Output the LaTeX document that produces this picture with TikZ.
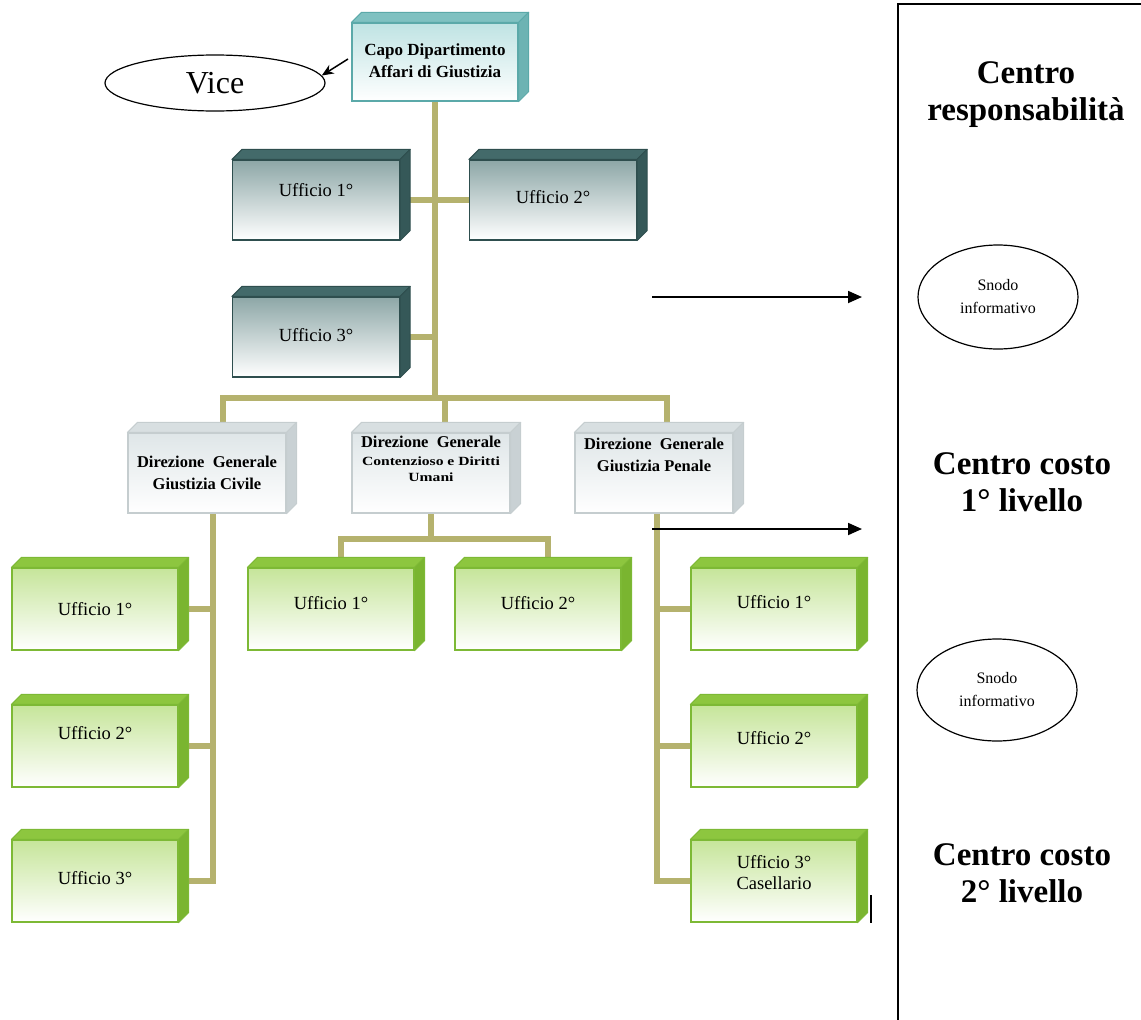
\documentclass[tikz,border=0pt]{standalone}
\usepackage{fontspec}
\setmainfont{Liberation Serif}
\usetikzlibrary{shapes.geometric,arrows.meta,backgrounds}
\definecolor{olivec}{HTML}{B5B26E}
\definecolor{tealb}{HTML}{5BA9A9}
\definecolor{tealtop}{HTML}{7FC1C1}
\definecolor{tealside}{HTML}{6DB3B3}
\definecolor{tealfront}{HTML}{BFE3E3}
\definecolor{darkb}{HTML}{2E4E4E}
\definecolor{darktop}{HTML}{436A6A}
\definecolor{darkside}{HTML}{355858}
\definecolor{darkfront}{HTML}{8DA7A7}
\definecolor{grnb}{HTML}{7DB935}
\definecolor{grntop}{HTML}{8DC63F}
\definecolor{grnside}{HTML}{7AB530}
\definecolor{grnfront}{HTML}{C6E59A}
\definecolor{grayb}{HTML}{C5CDCF}
\definecolor{graytop}{HTML}{D8DFE1}
\definecolor{grayside}{HTML}{C9D1D4}
\definecolor{grayfront}{HTML}{DFE6E8}
\tikzset{
 conn/.style={line width=6pt, draw=olivec},
 arr/.style={line width=1.8pt, -{Triangle[length=14pt,width=12pt]}},
 front/.style={rectangle, line width=1.2pt, inner sep=0pt},
 capof/.style={front, draw=tealb, top color=tealfront, bottom color=white, minimum width=166pt, minimum height=78pt},
 darkf/.style={front, draw=darkb, top color=darkfront, bottom color=white, minimum width=167pt, minimum height=80pt},
 dgf/.style={front, draw=grayb, top color=grayfront, bottom color=white, minimum width=158pt, minimum height=80pt},
 grnf/.style={front, draw=grnb, top color=grnfront, bottom color=white, minimum width=166pt, minimum height=82pt},
 btext/.style={font=\fontsize{18.5}{21}\selectfont, align=center, inner sep=0pt},
 bbold/.style={font=\bfseries\fontsize{17}{22}\selectfont, align=center, inner sep=0pt},
 dbold/.style={font=\bfseries\fontsize{16.5}{22}\selectfont, align=center, inner sep=0pt},
 oval/.style={ellipse, draw, line width=1.2pt, inner sep=0pt},
 otext/.style={font=\fontsize{16}{23}\selectfont, align=center, inner sep=0pt},
 rtext/.style={font=\bfseries\fontsize{33}{37}\selectfont, align=center, inner sep=0pt},
}
\newcommand{\cube}[9]{%
 \node[#2] (#1) at (#6,#7) {};
 \filldraw[fill=#3, draw=#5, line width=1pt, line join=round] (#1.north west) -- ++(10,-10) -- ([shift={(10,-10)}]#1.north east) -- (#1.north east) -- cycle;
 \filldraw[fill=#4, draw=#5, line width=1pt, line join=round] (#1.north east) -- ++(10,-10) -- ([shift={(10,-10)}]#1.south east) -- (#1.south east) -- cycle;
 \node[#8] (#1t) at (#1.center) {#9};
}
\newcommand{\smallb}[1]{\scalebox{1.25}[1]{\fontsize{12.5}{14}\selectfont #1}}
\begin{document}
\begin{tikzpicture}[x=1pt,y=-1pt]
\useasboundingbox (0,0) rectangle (1141,1020);

% top
\cube{capo}{capof}{tealtop}{tealside}{tealb}{435}{62}{bbold,yshift=1pt}{Capo Dipartimento\\Affari di Giustizia}
\node[oval, minimum width=220pt, minimum height=56pt, font=\fontsize{32}{34}\selectfont] (vice) at (215,83) {Vice};

% dark offices
\cube{d1}{darkf}{darktop}{darkside}{darkb}{316}{200}{btext,yshift=10pt}{Ufficio 1°}
\cube{d2}{darkf}{darktop}{darkside}{darkb}{553}{200}{btext,yshift=3pt}{Ufficio 2°}
\cube{d3}{darkf}{darktop}{darkside}{darkb}{316}{337}{btext,yshift=2pt}{Ufficio 3°}

% direzioni
\cube{dgc}{dgf}{graytop}{grayside}{grayb}{207}{473}{dbold}{Direzione~ Generale\\Giustizia Civile}
\cube{dgm}{dgf}{graytop}{grayside}{grayb}{431}{473}{dbold,yshift=14pt}{Direzione~ Generale\\[-4pt]\smallb{Contenzioso e Diritti}\\[-6pt]\smallb{Umani}}
\cube{dgp}{dgf}{graytop}{grayside}{grayb}{654}{473}{dbold,yshift=18pt}{Direzione~ Generale\\Giustizia Penale}

% green offices
\cube{l1}{grnf}{grntop}{grnside}{grnb}{95}{609}{btext}{Ufficio 1°}
\cube{l2}{grnf}{grntop}{grnside}{grnb}{95}{746}{btext,yshift=13pt}{Ufficio 2°}
\cube{l3}{grnf}{grntop}{grnside}{grnb}{95}{881}{btext,yshift=3pt}{Ufficio 3°}
\cube{m1}{grnf}{grntop}{grnside}{grnb}{331}{609}{btext,yshift=6pt}{Ufficio 1°}
\cube{m2}{grnf}{grntop}{grnside}{grnb}{538}{609}{btext,yshift=6pt}{Ufficio 2°}
\cube{r1}{grnf}{grntop}{grnside}{grnb}{774}{609}{btext,yshift=7pt}{Ufficio 1°}
\cube{r2}{grnf}{grntop}{grnside}{grnb}{774}{746}{btext,yshift=8pt}{Ufficio 2°}
\cube{r3}{grnf}{grntop}{grnside}{grnb}{774}{881}{btext,yshift=8pt}{Ufficio 3°\\Casellario}

% right panel
\draw[line width=1.5pt] (898,1020) -- (898,4) -- (1141,4);
\node[rtext] (cr) at (1026,95) {Centro\\responsabilità};
\node[oval, minimum width=160pt, minimum height=104pt, otext] (sn1) at (998,297) {Snodo\\informativo};
\node[rtext] (cc1) at (1022,482) {Centro costo\\1° livello};
\node[oval, minimum width=160pt, minimum height=102pt, otext] (sn2) at (997,690) {Snodo\\informativo};
\node[rtext] (cc2) at (1022,873) {Centro costo\\2° livello};

% arrows
\coordinate (a1s) at (652,297);
\coordinate (a1e) at (862,297);
\coordinate (a2s) at (652,529);
\coordinate (a2e) at (862,529);
\draw[arr] (a1s) -- (a1e);
\draw[arr] (a2s) -- (a2e);
\coordinate (vt) at (348,59);
\draw[line width=1.5pt, -{Stealth[length=12pt,width=10pt]}] (vt) -- (vice.4);
\coordinate (mk1) at (871,895);
\coordinate (mk2) at (871,923);
\draw[line width=2.5pt] (mk1) -- (mk2);

\begin{pgfonlayer}{background}
\coordinate (bar) at (434,398);
\draw[conn] (capo.south) -- (capo.south |- bar);
\draw[conn] (d1.east) -- (d2.west);
\draw[conn] (d3.east) -- (d3.east -| capo.south);
\draw[conn] ([xshift=16pt]dgc.north) -- ([xshift=16pt]dgc.north |- bar) -- ([xshift=13pt]dgp.north |- bar) -- ([xshift=13pt]dgp.north);
\draw[conn] ([xshift=14pt]dgm.north) -- ([xshift=14pt]dgm.north |- bar);
\coordinate (lv) at ([xshift=6pt]dgc.south);
\draw[conn] (lv) |- (l3.east);
\draw[conn] (l1.east) -- (l1.east -| lv);
\draw[conn] (l2.east) -- (l2.east -| lv);
\coordinate (mj) at ([yshift=-25pt]dgm.south);
\draw[conn] (dgm.south) -- (mj);
\draw[conn] ([xshift=10pt]m1.north) |- (mj) -| ([xshift=10pt]m2.north);
\coordinate (rv) at ([xshift=3pt]dgp.south);
\draw[conn] (rv) |- (r3.west);
\draw[conn] (r1.west) -- (r1.west -| rv);
\draw[conn] (r2.west) -- (r2.west -| rv);
\end{pgfonlayer}
\end{tikzpicture}
\end{document}
